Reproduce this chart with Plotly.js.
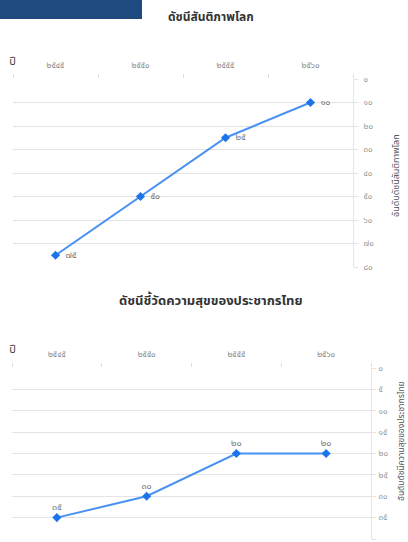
<!DOCTYPE html>
<html>
<head>
<meta charset="utf-8">
<script src="https://cdn.plot.ly/plotly-3.0.1.min.js"></script>
<style>html,body{margin:0;padding:0;background:#fff;}#chart{width:408px;height:542px;}</style>
</head>
<body>
<div id="chart"></div>
<script>
// ---- data ----
const years = ["๒๕๔๕", "๒๕๕๐", "๒๕๕๕", "๒๕๖๐"];
const peaceRank = [75, 50, 25, 10];
const happyRank = [35, 30, 20, 20];
const peaceTickVals = [0, 10, 20, 30, 40, 50, 60, 70, 80];
const peaceTickText = ["๐", "๑๐", "๒๐", "๓๐", "๔๐", "๕๐", "๖๐", "๗๐", "๘๐"];
const happyTickVals = [0, 5, 10, 15, 20, 25, 30, 35, 40];
const happyTickText = ["๐", "๕", "๑๐", "๑๕", "๒๐", "๒๕", "๓๐", "๓๕", "๔๐"];
const title1 = "ดัชนีสันติภาพโลก";
const title2 = "ดัชนีชี้วัดความสุขของประชากรไทย";
const yTitle1 = "อันดับดัชนีสันติภาพโลก";
const yTitle2 = "อันดับดัชนีความสุขของประชากรไทย";
const xLabel = "ปี";

const thaiDigits = "๐๑๒๓๔๕๖๗๘๙";
const toThai = n => String(n).replace(/[0-9]/g, d => thaiDigits[+d]);

const W = 408, H = 542;
const px = x => x / W;
const py = y => 1 - y / H;

const FONT = "Noto Sans, Noto Sans Thai, sans-serif";
const lineColor = "#4a92f2";
const markColor = "#1b74ea";

const traces = [
  {
    x: years, y: peaceRank, xaxis: "x", yaxis: "y",
    type: "scatter", mode: "lines+markers+text",
    text: peaceRank.map(v => "\u2002" + toThai(v)), textposition: "middle right",
    textfont: {size: 9, color: "#777"},
    line: {color: lineColor, width: 2},
    marker: {symbol: "diamond", size: 7, color: markColor},
    hoverinfo: "skip", cliponaxis: false
  },
  {
    x: years, y: happyRank, xaxis: "x2", yaxis: "y2",
    type: "scatter", mode: "lines+markers+text",
    text: happyRank.map(toThai), textposition: "top center",
    textfont: {size: 9, color: "#777"},
    line: {color: lineColor, width: 2},
    marker: {symbol: "diamond", size: 7, color: markColor},
    hoverinfo: "skip", cliponaxis: false
  }
];

const xCommon = {
  type: "category", side: "top", showgrid: false, zeroline: false,
  range: [-0.5, 3.5], autorange: false,
  ticks: "outside", tickson: "boundaries", ticklen: 4, tickcolor: "#ddd",
  tickfont: {size: 8, color: "#888", family: FONT}, ticklabelstandoff: 8,
  showline: false, fixedrange: true
};
const yCommon = {
  side: "right", showgrid: true, gridcolor: "#e3e3e3", gridwidth: 1,
  zeroline: false, showline: true, linecolor: "#e6e6e6",
  ticks: "outside", ticklen: 4, tickcolor: "#e3e3e3",
  tickfont: {size: 8, color: "#999", family: FONT}, fixedrange: true
};

const layout = {
  width: W, height: H,
  margin: {l: 0, r: 0, t: 0, b: 0},
  paper_bgcolor: "#fff", plot_bgcolor: "#fff",
  showlegend: false,
  font: {family: FONT},
  xaxis: Object.assign({}, xCommon, {domain: [px(13), px(353)], anchor: "y"}),
  yaxis: Object.assign({}, yCommon, {domain: [py(267), py(79)], anchor: "x",
    range: [80, 0], tickvals: peaceTickVals, ticktext: peaceTickText, ticklabelstandoff: 4}),
  xaxis2: Object.assign({}, xCommon, {domain: [px(12), px(371)], anchor: "y2"}),
  yaxis2: Object.assign({}, yCommon, {domain: [py(539), py(368)], anchor: "x2",
    range: [40, 0], tickvals: happyTickVals, ticktext: happyTickText, ticklabelstandoff: 1}),
  shapes: [
    {type: "rect", xref: "paper", yref: "paper", x0: 0, x1: px(142), y0: py(19), y1: 1,
     fillcolor: "#1f4a80", line: {width: 0}, layer: "above"}
  ],
  annotations: [
    {text: "<b>" + title1 + "</b>", xref: "paper", yref: "paper", x: px(211), y: py(16),
     showarrow: false, font: {size: 12, color: "#333"}, xanchor: "center", yanchor: "middle"},
    {text: "<b>" + title2 + "</b>", xref: "paper", yref: "paper", x: px(211), y: py(300),
     showarrow: false, font: {size: 13, color: "#333"}, xanchor: "center", yanchor: "middle"},
    {text: xLabel, xref: "paper", yref: "paper", x: px(12), y: py(60),
     showarrow: false, font: {size: 11, color: "#444"}, xanchor: "center", yanchor: "middle"},
    {text: xLabel, xref: "paper", yref: "paper", x: px(12), y: py(348),
     showarrow: false, font: {size: 11, color: "#444"}, xanchor: "center", yanchor: "middle"},
    {text: yTitle1, xref: "paper", yref: "paper", x: px(395), y: py(176), textangle: -90,
     showarrow: false, font: {size: 9, color: "#555"}, xanchor: "center", yanchor: "middle"},
    {text: yTitle2, xref: "paper", yref: "paper", x: px(400), y: py(441), textangle: -90,
     showarrow: false, font: {size: 8.5, color: "#555"}, xanchor: "center", yanchor: "middle"}
  ]
};

Plotly.newPlot("chart", traces, layout, {displayModeBar: false, staticPlot: true});
</script>
</body>
</html>
